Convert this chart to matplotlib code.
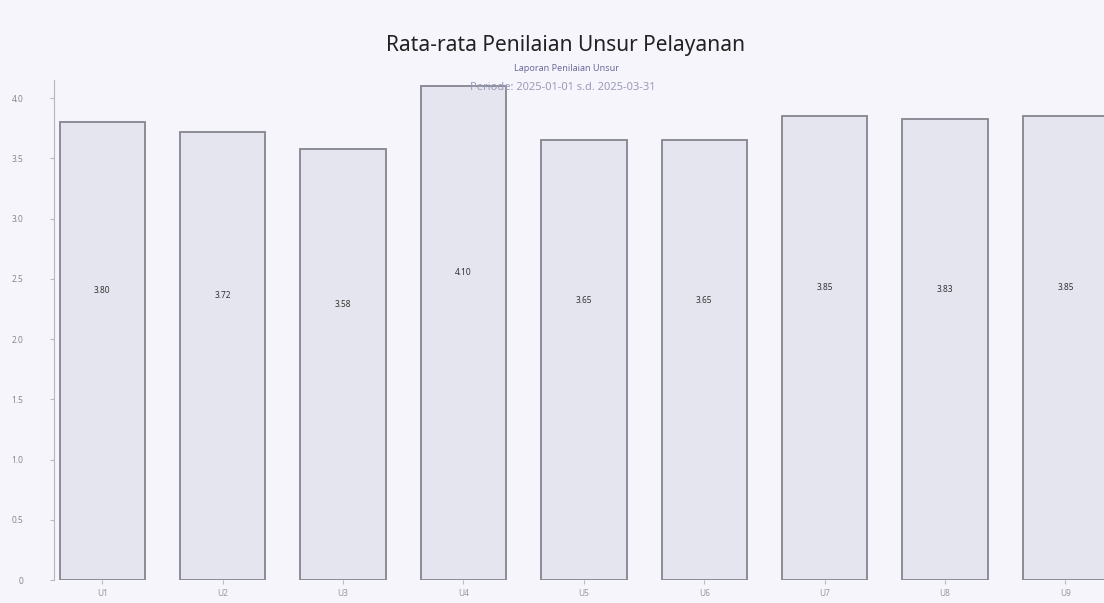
import numpy as np
import matplotlib.pyplot as plt

unsur = ["U1", "U2", "U3", "U4", "U5", "U6", "U7", "U8", "U9"]
nilai = [3.80, 3.72, 3.58, 4.10, 3.65, 3.65, 3.85, 3.83, 3.85]
yticks = [0, 0.5, 1.0, 1.5, 2.0, 2.5, 3.0, 3.5, 4.0]

plt.rcParams['font.family'] = ['Noto Sans', 'DejaVu Sans']

fig = plt.figure(figsize=(11.04, 6.03), dpi=100)
fig.patch.set_facecolor("#f6f5fc")
ax = fig.add_axes([0.049, 0.038, 0.951, 0.829])
ax.set_facecolor("#f6f5fc")

x = np.arange(len(unsur))
ax.bar(x, nilai, width=0.71, color="#e5e5f0", edgecolor="#85858f", linewidth=1.3)

# label nilai di tengah batang (sedikit ke atas seperti aslinya)
for xi, v in zip(x, nilai):
    ax.text(xi, v / 2 + 0.5, "{:.2f}".format(v), ha="center", va="center",
            fontsize=6, color="#333333")

ax.set_xlim(-0.4, 8.32)
ax.set_ylim(0, 4.15)
ax.set_xticks(x)
ax.set_xticklabels(unsur, fontsize=6, color="#999999")
ax.set_yticks(yticks)
ax.set_yticklabels(["0", "0.5", "1.0", "1.5", "2.0", "2.5", "3.0", "3.5", "4.0"],
                   fontsize=6, color="#888888")
ax.tick_params(length=3, color="#bbbbbb")
ax.tick_params(axis="y", pad=19)

for s in ["top", "right", "bottom"]:
    ax.spines[s].set_visible(False)
ax.spines["left"].set_color("#b5b5c0")

fig.text(0.512, 0.925, "Rata-rata Penilaian Unsur Pelayanan", ha="center",
         va="center", fontsize=15, color="#222222")
fig.text(0.513, 0.887, "Laporan Penilaian Unsur", ha="center", va="center",
         fontsize=6.5, color="#6a6a9a")
fig.text(0.51, 0.855, "Periode: 2025-01-01 s.d. 2025-03-31", ha="center",
         va="center", fontsize=8, color="#9a9ab8")

plt.savefig("out.png", dpi=100, facecolor=fig.get_facecolor())
